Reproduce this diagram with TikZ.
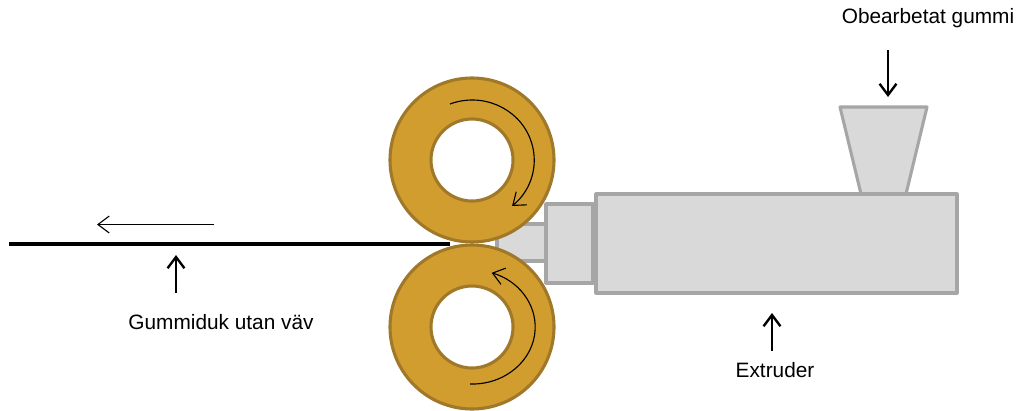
\documentclass[tikz,border=0pt]{standalone}
\usepackage{fontspec}
\setmainfont{Liberation Sans}
\usetikzlibrary{arrows.meta}
\definecolor{rollerfill}{HTML}{D19D2F}
\definecolor{rollerline}{HTML}{A0782A}
\definecolor{bodyfill}{HTML}{D9D9D9}
\definecolor{bodyline}{HTML}{A6A6A6}
\tikzset{
  rollerpart/.style={fill=rollerfill,draw=rollerline,line width=2.2pt},
  bodypart/.style={fill=bodyfill,draw=bodyline,line width=2.2pt,line join=round},
  thinarrow/.style={-{Straight Barb[length=8pt,width=12pt]},line width=0.8pt},
  pointer/.style={-{Straight Barb[length=8pt,width=12pt]},line width=1.7pt},
}
\begin{document}
\begin{tikzpicture}[x=0.025cm,y=0.025cm,font=\fontsize{14.8}{17}\selectfont]
\useasboundingbox (0,0) rectangle (1019,410);
% extruder
\draw[bodypart] (497,149) rectangle (546,186);
\draw[bodypart] (546,127) rectangle (593,206);
\draw[bodypart] (861,216)--(840,303)--(927,303)--(906,216);
\draw[bodypart] (596,117) rectangle (957,216);
% rollers
\draw[rollerpart] (472,250) circle (82);
\draw[rollerpart,fill=white] (472,250) circle (41);
\draw[rollerpart] (472,83) circle (82);
\draw[rollerpart,fill=white] (472,83) circle (41);
\draw[thinarrow] (450,306) arc[start angle=111,end angle=-50,x radius=62,y radius=60];
\draw[thinarrow] (470,26) arc[start angle=-92,end angle=72,x radius=63,y radius=57];
% rubber sheet
\draw[line width=3.2pt] (9,166)--(450,166);
\coordinate (sheetstart) at (214,185.5);
\coordinate (sheetend) at (97,185.5);
\draw[thinarrow] (sheetstart)--(sheetend);
% labels
\node (gummiduk) at (221,88) {Gummiduk utan väv};
\node (extruder) at (775,40) {Extruder};
\node (obearbetat) at (928,392) {Obearbetat gummi};
\coordinate (gummidukfrom) at (176,117);
\coordinate (gummidukto) at (176,155);
\coordinate (extruderfrom) at (772,59);
\coordinate (extruderto) at (772,97);
\coordinate (obearbetatfrom) at (888,360);
\coordinate (obearbetatto) at (888,313);
\draw[pointer] (gummidukfrom)--(gummidukto);
\draw[pointer] (extruderfrom)--(extruderto);
\draw[pointer] (obearbetatfrom)--(obearbetatto);
\end{tikzpicture}
\end{document}
